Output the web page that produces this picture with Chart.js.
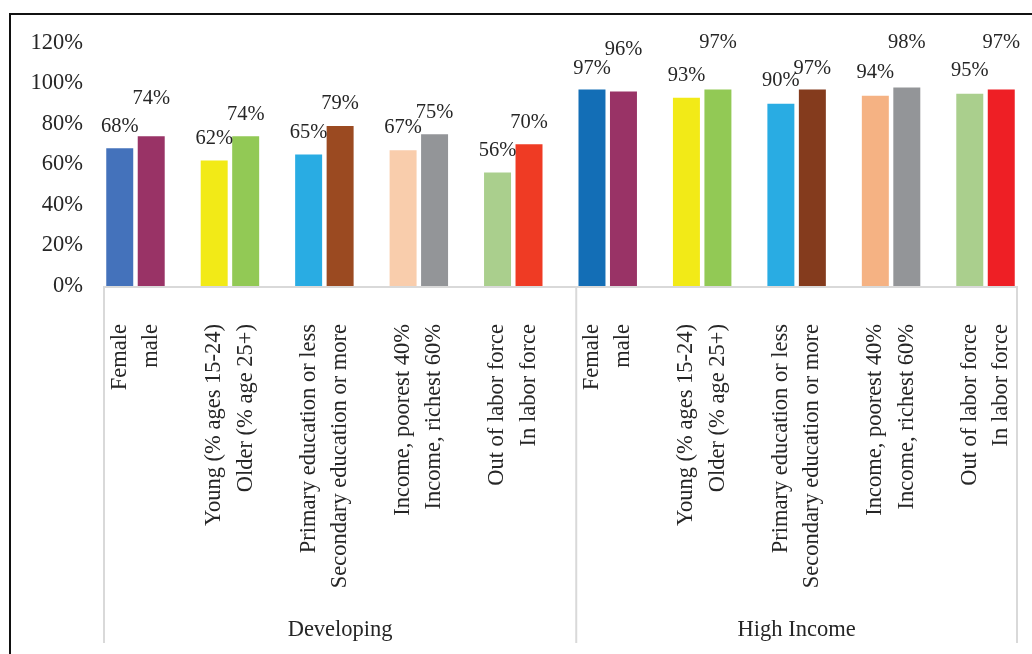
<!DOCTYPE html>
<html>
<head>
<meta charset="utf-8">
<script src="https://cdn.jsdelivr.net/npm/chart.js@4.4.1/dist/chart.umd.min.js"></script>
<style>
  html, body { margin: 0; padding: 0; background: #fff; }
  #wrap { position: relative; width: 1032px; height: 654px; overflow: hidden; }
  #wrap canvas { position: absolute; left: 0; top: 0; }
  #frame { position: absolute; left: 9px; top: 13px; right: -4px; bottom: -4px;
           border-top: 2px solid #111; border-left: 2px solid #111; pointer-events: none; }
</style>
</head>
<body>
<div id="wrap">
  <canvas id="barChart" width="1032" height="654"></canvas>
  <div id="frame"></div>
</div>
<script>
// Data
const groups = ["Developing", "High Income"];
const categories = [
  "Female", "male",
  "Young (% ages 15-24)", "Older (% age 25+)",
  "Primary education or less", "Secondary education or more",
  "Income, poorest 40%", "Income, richest 60%",
  "Out of labor force", "In labor force"
];
const developing = [68, 74, 62, 74, 65, 79, 67, 75, 56, 70];
const highIncome = [97, 96, 93, 97, 90, 97, 94, 98, 95, 97];
const yTicks = [0, 20, 40, 60, 80, 100, 120];

// Styles
const devColors = ["#4472bb", "#993366", "#f2ea17", "#92c955", "#29ace3",
                   "#9b4a21", "#f9cdac", "#939598", "#aacf8d", "#ef3b24"];
const hiColors = ["#136eb6", "#993366", "#f2ea17", "#92c955", "#29ace3",
                  "#843b1d", "#f5b283", "#939598", "#aacf8d", "#ee1f25"];
// label distance above bar top (labels were nudged by hand in the original)
const devLift = [22, 38, 22, 22, 22, 22, 23, 22, 22, 22];
const hiLift = [21, 42, 22, 47, 23, 21, 23, 45, 23, 47];

const FONT = "'Liberation Serif', 'Times New Roman', serif";
const TEXT = "#262626";

// build the flat category list with a blank slot after each pair
const labels = [], values = [], colors = [], lifts = [], ranges = [];
groups.forEach((g, gi) => {
  const vals = gi === 0 ? developing : highIncome;
  const cols = gi === 0 ? devColors : hiColors;
  const lf = gi === 0 ? devLift : hiLift;
  const start = labels.length;
  categories.forEach((c, ci) => {
    labels.push(c); values.push(vals[ci]); colors.push(cols[ci]); lifts.push(lf[ci]);
    const last = gi === groups.length - 1 && ci === categories.length - 1;
    if (ci % 2 === 1 && !last) {
      labels.push(""); values.push(null); colors.push("#fff"); lifts.push(0);
    }
  });
  ranges.push({ name: g, start: start, end: labels.length - 1 });
});

const decorations = {
  id: "decorations",
  afterDatasetsDraw(chart) {
    const ctx = chart.ctx;
    const x = chart.scales.x;
    const area = chart.chartArea;
    const slot = x.getPixelForValue(1) - x.getPixelForValue(0);
    const bottom = chart.height - 11;

    ctx.save();
    ctx.strokeStyle = "#d9d9d9";
    ctx.lineWidth = 2;
    ctx.beginPath();
    ctx.moveTo(area.left, area.bottom + 1);
    ctx.lineTo(area.right, area.bottom + 1);
    ranges.forEach((r, i) => {
      const l = x.getPixelForValue(r.start) - slot / 2;
      ctx.moveTo(l, area.bottom);
      ctx.lineTo(l, bottom);
      if (i === ranges.length - 1) {
        const rr = x.getPixelForValue(r.end) + slot / 2;
        ctx.moveTo(rr, area.bottom);
        ctx.lineTo(rr, bottom);
      }
    });
    ctx.stroke();

    ctx.fillStyle = TEXT;
    ctx.textAlign = "center";
    ctx.textBaseline = "middle";
    ctx.font = "22.5px " + FONT;
    ranges.forEach(r => {
      const l = x.getPixelForValue(r.start) - slot / 2;
      const rr = x.getPixelForValue(r.end) + slot / 2;
      ctx.fillText(r.name, (l + rr) / 2, chart.height - 24);
    });

    // value labels
    ctx.font = "20.5px " + FONT;
    const meta = chart.getDatasetMeta(0);
    meta.data.forEach((bar, i) => {
      if (values[i] == null) return;
      ctx.fillText(values[i] + "%", bar.x, bar.y - lifts[i]);
    });
    ctx.restore();
  }
};

new Chart(document.getElementById("barChart"), {
  type: "bar",
  data: {
    labels: labels,
    datasets: [{
      data: values,
      backgroundColor: colors,
      borderWidth: 0,
      categoryPercentage: 1,
      barPercentage: 0.857
    }]
  },
  options: {
    responsive: false,
    animation: false,
    layout: { padding: { left: 0, right: 15, top: 43, bottom: 0 } },
    plugins: { legend: { display: false }, tooltip: { enabled: false } },
    scales: {
      x: {
        grid: { display: false, drawTicks: false },
        border: { display: false },
        afterFit: s => { s.height = 368; s.paddingLeft = 0; s.paddingRight = 0; },
        ticks: {
          autoSkip: false, minRotation: 90, maxRotation: 90, padding: 38,
          color: TEXT, font: { family: FONT, size: 22.5 }
        }
      },
      y: {
        min: 0, max: 120,
        grid: { display: false, drawTicks: false },
        border: { display: false },
        afterFit: s => { s.width = 104; s.paddingTop = 0; s.paddingBottom = 0; },
        afterBuildTicks: s => { s.ticks = yTicks.map(v => ({ value: v })); },
        ticks: {
          padding: 21, color: TEXT,
          font: { family: FONT, size: 22.5 },
          callback: v => v + "%"
        }
      }
    }
  },
  plugins: [decorations]
});
</script>
</body>
</html>
